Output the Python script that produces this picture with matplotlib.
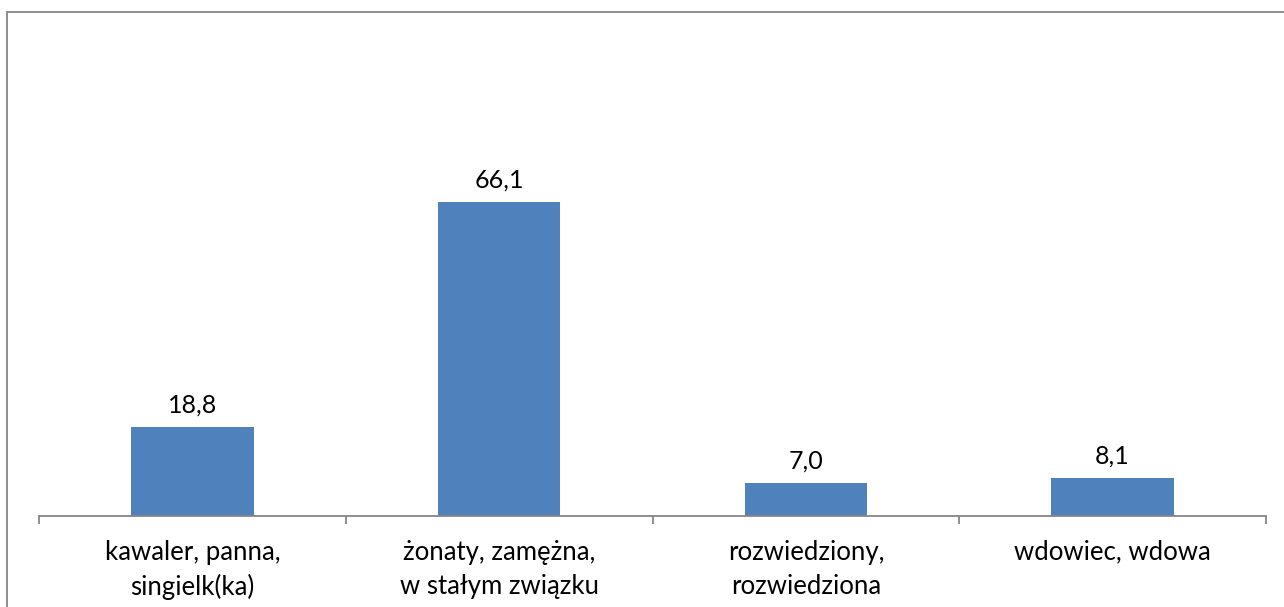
import matplotlib.pyplot as plt
from matplotlib.patches import Rectangle

# dane
categories = ['kawaler, panna,\nsingielk(ka)', 'żonaty, zamężna,\nw stałym związku',
              'rozwiedziony,\nrozwiedziona', 'wdowiec, wdowa']
values = [18.8, 66.1, 7.0, 8.1]
value_labels = ['18,8', '66,1', '7,0', '8,1']

plt.rcParams['font.family'] = ['Lato', 'DejaVu Sans']

W, H = 1284, 607
fig = plt.figure(figsize=(W / 100, H / 100), dpi=100)

# ramka wykresu
fig.patches.append(Rectangle((7 / W, -0.1), 1.1, 1 - 12 / H + 0.1, transform=fig.transFigure,
                             fill=False, edgecolor='#868686', linewidth=1.3, zorder=0))

ax = fig.add_axes([39 / W, 1 - 516 / H, (1266 - 39) / W, (516 - 41) / H])
x = list(range(len(categories)))
ax.bar(x, values, width=0.4, color='#4F81BD', zorder=2)
for xi, v, lab in zip(x, values, value_labels):
    ax.annotate(lab, (xi, v), xytext=(0, 10), textcoords='offset pixels',
                ha='center', va='bottom', fontsize=18, color='black')

ax.set_xlim(-0.5, len(categories) - 0.5)
ax.set_ylim(0, 100)
ax.set_yticks([])
for s in ['top', 'right', 'left']:
    ax.spines[s].set_visible(False)
ax.spines['bottom'].set_color('#868686')
ax.spines['bottom'].set_linewidth(1.3)
ax.set_xticks([-0.5, 0.5, 1.5, 2.5, 3.5])
ax.set_xticklabels([])
ax.tick_params(axis='x', length=6, width=1.3, color='#868686', direction='out')
ax.set_xticks(x, minor=True)
ax.set_xticklabels(categories, minor=True, fontsize=18.5, linespacing=1.45)
ax.tick_params(axis='x', which='minor', length=0, pad=17)
ax.patch.set_alpha(0)

fig.savefig('out.png', dpi=100)
